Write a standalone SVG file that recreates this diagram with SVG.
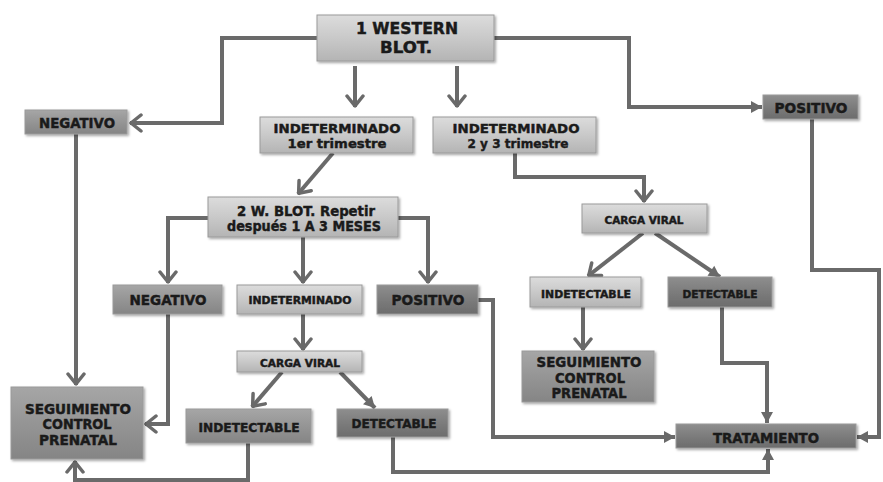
<svg xmlns="http://www.w3.org/2000/svg" width="883" height="482" viewBox="0 0 883 482">
<defs>
<linearGradient id="gl" x1="0" y1="0" x2="0" y2="1"><stop offset="0" stop-color="#dcdcdc"/><stop offset="0.5" stop-color="#c9c9c9"/><stop offset="1" stop-color="#b4b4b4"/></linearGradient>
<linearGradient id="gm" x1="0" y1="0" x2="0" y2="1"><stop offset="0" stop-color="#a6a6a6"/><stop offset="0.5" stop-color="#959595"/><stop offset="1" stop-color="#858585"/></linearGradient>
<linearGradient id="gd" x1="0" y1="0" x2="0" y2="1"><stop offset="0" stop-color="#8e8e8e"/><stop offset="0.5" stop-color="#7c7c7c"/><stop offset="1" stop-color="#6c6c6c"/></linearGradient>
<filter id="sh" x="-10%" y="-20%" width="130%" height="150%"><feDropShadow dx="1.5" dy="1.5" stdDeviation="1" flood-color="#000" flood-opacity="0.35"/></filter>
<marker id="chev" markerUnits="userSpaceOnUse" viewBox="-14 -10 16 20" refX="0" refY="0" markerWidth="16" markerHeight="20" orient="auto">
<path d="M-11,-8 L-1,0 L-11,8" fill="none" stroke="#6a6a6a" stroke-width="3.5" stroke-linecap="round" stroke-linejoin="round"/>
</marker>
<marker id="tri" markerUnits="userSpaceOnUse" viewBox="-12 -8 13 16" refX="0" refY="0" markerWidth="13" markerHeight="16" orient="auto">
<path d="M-11,-6 L0,0 L-11,6 Z" fill="#6a6a6a"/>
</marker>
<style>
.c{fill:none;stroke:#6a6a6a;stroke-width:4;stroke-linejoin:miter}
.ca{marker-end:url(#chev)}
.ta{marker-end:url(#tri)}
.b{stroke:#9a9a9a;stroke-width:1;filter:url(#sh)}
.l{fill:url(#gl)}
.m{fill:url(#gm)}
.d{fill:url(#gd)}
text{font-family:"DejaVu Sans","Liberation Sans",sans-serif;font-weight:bold;fill:#1a1a1a;text-anchor:middle;stroke:#1a1a1a;stroke-width:0.45}
</style>
</defs>
<rect width="883" height="482" fill="#ffffff"/>
<g id="connectors">
<path class="c ca" d="M317,38 H222 V123 H130"/>
<path class="c ta" d="M494,38 H629 V107 H762"/>
<path class="c ca" d="M355,66 V107"/>
<path class="c ca" d="M457,66 V107"/>
<path class="c ca" d="M76,134 V385"/>
<path class="c ca" d="M333,153 L298,194"/>
<path class="c ca" d="M515,153 V177 H644 V202"/>
<path class="c ca" d="M208,218 H168 V283"/>
<path class="c ca" d="M303,237 V283"/>
<path class="c ca" d="M398,218 H428 V283"/>
<path class="c ca" d="M168,314 V424 H145"/>
<path class="c ca" d="M303,314 V350"/>
<path class="c ta" d="M478,300 H493 V437 H675"/>
<path class="c ca" d="M282,372 L252,407"/>
<path class="c ta" d="M340,372 L375,408"/>
<path class="c ca" d="M248,443 V480 H75 V461"/>
<path class="c ta" d="M393,437 V472 H768 V449"/>
<path class="c ca" d="M643,233 L588,276"/>
<path class="c ta" d="M655,233 L720,277"/>
<path class="c ca" d="M583,307 V350"/>
<path class="c ta" d="M722,307 V363 H767 V423"/>
<path class="c ta" d="M812,119 V270 H879 V437 H857"/>
</g>
<g id="wb1"><rect class="b l" x="317" y="15" width="177" height="46"/><text x="407" y="34" font-size="15" textLength="102" lengthAdjust="spacingAndGlyphs">1 WESTERN</text><text x="406" y="53" font-size="15" textLength="52" lengthAdjust="spacingAndGlyphs">BLOT.</text></g>
<g id="neg1"><rect class="b m" x="25" y="110" width="102" height="24"/><text x="77" y="128" font-size="13.5" textLength="76" lengthAdjust="spacingAndGlyphs">NEGATIVO</text></g>
<g id="pos1"><rect class="b d" x="763" y="95" width="95" height="24"/><text x="811" y="113" font-size="13.5" textLength="73" lengthAdjust="spacingAndGlyphs">POSITIVO</text></g>
<g id="ind1"><rect class="b l" x="260" y="117" width="153" height="36"/><text x="337" y="133" font-size="13" textLength="127" lengthAdjust="spacingAndGlyphs">INDETERMINADO</text><text x="337" y="148" font-size="13" textLength="99" lengthAdjust="spacingAndGlyphs">1er trimestre</text></g>
<g id="ind23"><rect class="b l" x="433" y="117" width="163" height="36"/><text x="516" y="133" font-size="13" textLength="127" lengthAdjust="spacingAndGlyphs">INDETERMINADO</text><text x="518" y="148" font-size="13" textLength="101" lengthAdjust="spacingAndGlyphs">2 y 3 trimestre</text></g>
<g id="wb2"><rect class="b l" x="208" y="197" width="190" height="40"/><text x="306" y="216" font-size="13.5" textLength="138" lengthAdjust="spacingAndGlyphs">2 W. BLOT. Repetir</text><text x="304" y="231" font-size="13.5" textLength="154" lengthAdjust="spacingAndGlyphs">después 1 A 3 MESES</text></g>
<g id="neg2"><rect class="b m" x="113" y="285" width="109" height="29"/><text x="168" y="305" font-size="13.5" textLength="77" lengthAdjust="spacingAndGlyphs">NEGATIVO</text></g>
<g id="ind2"><rect class="b l" x="237" y="285" width="125" height="29"/><text x="300" y="304" font-size="10" textLength="103" lengthAdjust="spacingAndGlyphs">INDETERMINADO</text></g>
<g id="pos2"><rect class="b d" x="377" y="285" width="101" height="29"/><text x="428" y="305" font-size="13.5" textLength="73" lengthAdjust="spacingAndGlyphs">POSITIVO</text></g>
<g id="cv1"><rect class="b l" x="582" y="204" width="125" height="29"/><text x="644" y="224" font-size="10" textLength="79" lengthAdjust="spacingAndGlyphs">CARGA VIRAL</text></g>
<g id="indet1"><rect class="b l" x="530" y="277" width="111" height="30"/><text x="586" y="298" font-size="10.5" textLength="90" lengthAdjust="spacingAndGlyphs">INDETECTABLE</text></g>
<g id="det1"><rect class="b d" x="668" y="277" width="104" height="30"/><text x="720" y="298" font-size="10.5" textLength="75" lengthAdjust="spacingAndGlyphs">DETECTABLE</text></g>
<g id="seg2"><rect class="b m" x="522" y="351" width="132" height="51"/><text x="589" y="367" font-size="13.5" textLength="105" lengthAdjust="spacingAndGlyphs">SEGUIMIENTO</text><text x="590" y="383" font-size="13.5" textLength="70" lengthAdjust="spacingAndGlyphs">CONTROL</text><text x="589" y="398" font-size="13.5" textLength="75" lengthAdjust="spacingAndGlyphs">PRENATAL</text></g>
<g id="trat"><rect class="b d" x="676" y="424" width="180" height="24"/><text x="766" y="443" font-size="13.5" textLength="106" lengthAdjust="spacingAndGlyphs">TRATAMIENTO</text></g>
<g id="seg1"><rect class="b m" x="11" y="387" width="132" height="72"/><text x="78" y="414" font-size="13.5" textLength="106" lengthAdjust="spacingAndGlyphs">SEGUIMIENTO</text><text x="77" y="429" font-size="13.5" textLength="69" lengthAdjust="spacingAndGlyphs">CONTROL</text><text x="78" y="445" font-size="13.5" textLength="78" lengthAdjust="spacingAndGlyphs">PRENATAL</text></g>
<g id="cv2"><rect class="b l" x="237" y="351" width="125" height="21"/><text x="300" y="367" font-size="10" textLength="80" lengthAdjust="spacingAndGlyphs">CARGA VIRAL</text></g>
<g id="indet2"><rect class="b m" x="186" y="409" width="125" height="34"/><text x="249" y="432" font-size="12.5" textLength="101" lengthAdjust="spacingAndGlyphs">INDETECTABLE</text></g>
<g id="det2"><rect class="b d" x="337" y="409" width="111" height="28"/><text x="394" y="428" font-size="12.5" textLength="85" lengthAdjust="spacingAndGlyphs">DETECTABLE</text></g>
</svg>
